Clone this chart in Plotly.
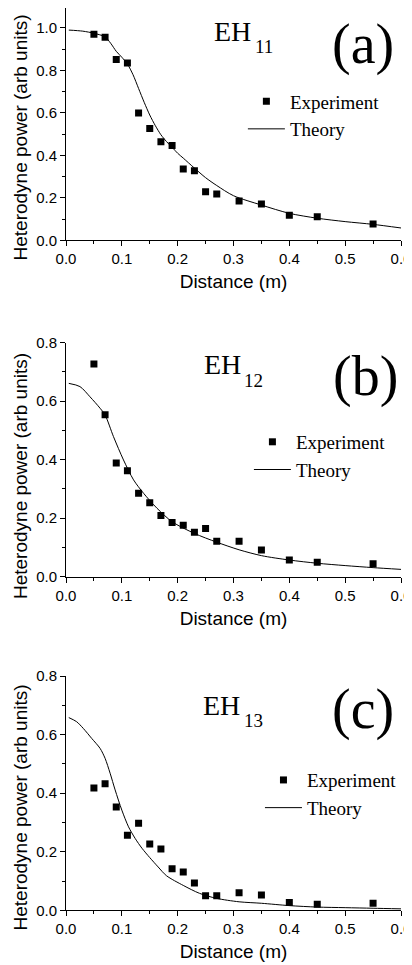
import plotly.graph_objects as go

# ---------------- data ----------------
exp_x = [0.05, 0.07, 0.09, 0.11, 0.13, 0.15, 0.17, 0.19, 0.21, 0.23, 0.25, 0.27, 0.31, 0.35, 0.40, 0.45, 0.55]
exp_a = [0.970, 0.956, 0.852, 0.835, 0.600, 0.526, 0.464, 0.447, 0.336, 0.328, 0.229, 0.218, 0.185, 0.171, 0.118, 0.111, 0.077]
exp_b = [0.727, 0.554, 0.389, 0.362, 0.285, 0.253, 0.209, 0.185, 0.176, 0.152, 0.165, 0.121, 0.121, 0.091, 0.057, 0.049, 0.044]
exp_c = [0.418, 0.432, 0.353, 0.256, 0.297, 0.226, 0.209, 0.142, 0.131, 0.093, 0.050, 0.050, 0.060, 0.052, 0.027, 0.021, 0.024]

th_a_x = [0.005, 0.03, 0.05, 0.07, 0.08, 0.09, 0.10, 0.11, 0.12, 0.13, 0.14, 0.15, 0.16, 0.17, 0.18, 0.19, 0.20, 0.21, 0.23, 0.25, 0.27, 0.30, 0.35, 0.40, 0.45, 0.50, 0.55, 0.60]
th_a_y = [0.990, 0.985, 0.975, 0.958, 0.928, 0.890, 0.862, 0.830, 0.780, 0.715, 0.650, 0.590, 0.540, 0.497, 0.465, 0.438, 0.410, 0.387, 0.340, 0.295, 0.258, 0.210, 0.166, 0.127, 0.104, 0.088, 0.075, 0.058]

th_b_x = [0.005, 0.025, 0.043, 0.061, 0.07, 0.085, 0.103, 0.121, 0.139, 0.163, 0.19, 0.23, 0.27, 0.31, 0.35, 0.40, 0.45, 0.50, 0.55, 0.60]
th_b_y = [0.661, 0.650, 0.615, 0.576, 0.553, 0.479, 0.399, 0.331, 0.285, 0.234, 0.188, 0.148, 0.118, 0.092, 0.072, 0.057, 0.046, 0.038, 0.031, 0.025]

th_c_x = [0.005, 0.019, 0.031, 0.046, 0.061, 0.070, 0.079, 0.088, 0.100, 0.112, 0.124, 0.136, 0.15, 0.165, 0.18, 0.21, 0.239, 0.269, 0.31, 0.35, 0.40, 0.45, 0.50, 0.55, 0.60]
th_c_y = [0.658, 0.644, 0.621, 0.587, 0.553, 0.519, 0.468, 0.411, 0.342, 0.285, 0.245, 0.212, 0.180, 0.148, 0.118, 0.085, 0.058, 0.041, 0.029, 0.024, 0.016, 0.011, 0.009, 0.007, 0.005]

panel_labels = ["(a)", "(b)", "(c)"]
mode_names = ["EH", "EH", "EH"]
mode_subs = ["11", "12", "13"]
x_ticks = [0.0, 0.1, 0.2, 0.3, 0.4, 0.5, 0.6]
y_ranges = [[0, 1.094], [0, 0.8], [0, 0.8]]
x_title = "Distance (m)"
y_title = "Heterodyne power (arb units)"

# ---------------- figure ----------------
SANS = "Liberation Sans, Arial, sans-serif"
SERIF = "Liberation Serif, Times New Roman, serif"

fig = go.Figure()
exps = [exp_a, exp_b, exp_c]
ths = [(th_a_x, th_a_y), (th_b_x, th_b_y), (th_c_x, th_c_y)]
legends = ["legend", "legend2", "legend3"]
for i in range(3):
    xa = "x" if i == 0 else f"x{i+1}"
    ya = "y" if i == 0 else f"y{i+1}"
    fig.add_trace(go.Scatter(x=exp_x, y=exps[i], mode="markers", name="Experiment",
                             marker=dict(symbol="square", size=7, color="black"),
                             xaxis=xa, yaxis=ya, legend=legends[i]))
    fig.add_trace(go.Scatter(x=ths[i][0], y=ths[i][1], mode="lines", name="Theory",
                             line=dict(color="black", width=1, shape="spline", smoothing=0.8),
                             xaxis=xa, yaxis=ya, legend=legends[i]))

H = 965.0
# plot-area pixel extents inside the figure (page body adds an 8px offset)
domains_px = [(0.0, 232.3), (334.7, 568.7), (668.0, 902.3)]
ydomains = [[1 - b / H, 1 - t / H] for (t, b) in domains_px]

axis_common = dict(showline=True, linecolor="black", linewidth=1, mirror=False,
                   showgrid=False, zeroline=False, ticks="outside", ticklen=5,
                   tickwidth=1, tickcolor="black", automargin=False,
                   tickfont=dict(family=SANS, size=15, color="black"))

layout = dict(width=412, height=965, margin=dict(l=58, r=19, t=0, b=0),
              plot_bgcolor="white", paper_bgcolor="white", showlegend=True)

for i in range(3):
    xk = "xaxis" if i == 0 else f"xaxis{i+1}"
    yk = "yaxis" if i == 0 else f"yaxis{i+1}"
    ya = "y" if i == 0 else f"y{i+1}"
    xa = "x" if i == 0 else f"x{i+1}"
    layout[xk] = dict(axis_common, range=[0, 0.6], domain=[0, 1], anchor=ya,
                      tickvals=x_ticks, tickformat=".1f",
                      minor=dict(dtick=0.05, ticklen=3, ticks="outside", tickcolor="black"),
                      title=dict(text=x_title, font=dict(family=SANS, size=19, color="black"),
                                 standoff=8))
    layout[yk] = dict(axis_common, range=y_ranges[i], domain=ydomains[i], anchor=xa,
                      dtick=0.2, tickformat=".1f",
                      minor=dict(dtick=0.1, ticklen=3, ticks="outside", tickcolor="black"))

leg_pos = [(0.528, 0.923), (0.546, 0.570), (0.579, 0.2196)]
for i in range(3):
    lk = legends[i]
    layout[lk] = dict(x=leg_pos[i][0], y=leg_pos[i][1], xanchor="left", yanchor="top",
                      bgcolor="rgba(0,0,0,0)", itemwidth=37,
                      font=dict(family=SERIF, size=19, color="black"))

fig.update_layout(**layout)

# panel annotations (data coordinates of each subplot)
lab_pos = [(0.532, 0.92), (0.536, 0.683), (0.532, 0.685)]
eh_pos = [(0.262, 0.985), (0.2435, 0.725), (0.2417, 0.70)]
sub_pos = [(0.335, 0.912), (0.3155, 0.67), (0.3147, 0.648)]
for i in range(3):
    xa = "x" if i == 0 else f"x{i+1}"
    ya = "y" if i == 0 else f"y{i+1}"
    fig.add_annotation(x=lab_pos[i][0], y=lab_pos[i][1], xref=xa, yref=ya, text=panel_labels[i],
                       showarrow=False, xanchor="center", yanchor="middle",
                       font=dict(family=SERIF, size=56, color="black"))
    fig.add_annotation(x=eh_pos[i][0], y=eh_pos[i][1], xref=xa, yref=ya, text=mode_names[i],
                       showarrow=False, xanchor="left", yanchor="middle",
                       font=dict(family=SERIF, size=28, color="black"))
    fig.add_annotation(x=sub_pos[i][0], y=sub_pos[i][1], xref=xa, yref=ya, text=mode_subs[i],
                       showarrow=False, xanchor="left", yanchor="middle",
                       font=dict(family=SERIF, size=19, color="black"))

ytitle_y = [0.8658, 0.5150, 0.1715]
for i in range(3):
    fig.add_annotation(x=-0.1373, y=ytitle_y[i], xref="paper", yref="paper", text=y_title,
                       showarrow=False, textangle=-90, xanchor="center", yanchor="middle",
                       font=dict(family=SANS, size=19, color="black"))

fig.write_html("out.html")
